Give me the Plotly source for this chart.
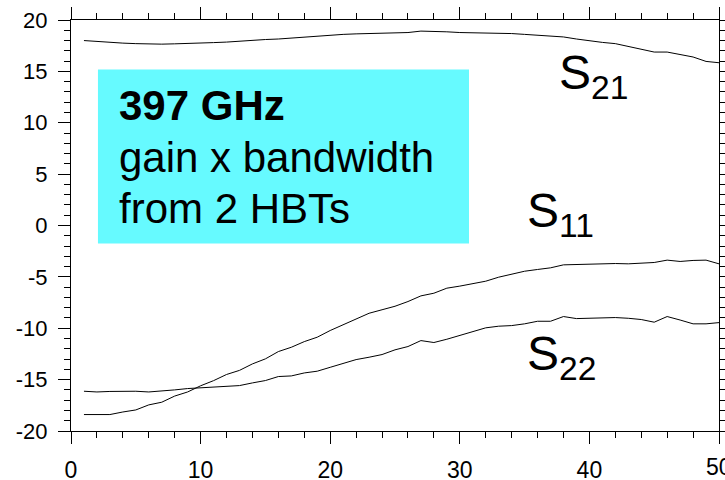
import plotly.graph_objects as go

freq = list(range(1, 51))
s21 = [18.0, 17.9, 17.8, 17.75, 17.7, 17.65, 17.65, 17.68, 17.7, 17.75,
       17.8, 17.85, 17.95, 18.05, 18.1, 18.15, 18.25, 18.35, 18.45, 18.5,
       18.6, 18.65, 18.7, 18.72, 18.75, 18.78, 18.92, 18.9, 18.85, 18.78,
       18.77, 18.76, 18.75, 18.68, 18.6, 18.5, 18.38, 18.35, 18.15, 17.95,
       17.82, 17.7, 17.45, 17.2, 16.88, 16.88, 16.65, 16.4, 15.97, 15.84]
s11 = [-18.4, -18.38, -18.4, -18.15, -17.95, -17.46, -17.2, -16.6, -16.2, -15.6,
       -15.1, -14.5, -14.1, -13.47, -12.98, -12.27, -11.85, -11.3, -10.87, -10.22,
       -9.64, -9.05, -8.54, -8.2, -7.86, -7.4, -6.85, -6.59, -6.1, -5.9,
       -5.68, -5.42, -5.03, -4.77, -4.45, -4.28, -4.12, -3.83, -3.8, -3.73,
       -3.73, -3.7, -3.73, -3.64, -3.6, -3.37, -3.5, -3.4, -3.37, -3.73]
s22 = [-16.13, -16.2, -16.15, -16.13, -16.13, -16.2, -16.13, -16.0, -15.87, -15.8,
       -15.78, -15.68, -15.58, -15.32, -15.09, -14.7, -14.64, -14.35, -14.18, -13.8,
       -13.41, -13.05, -12.82, -12.56, -12.1, -11.78, -11.2, -11.39, -11.07, -10.71,
       -10.32, -9.96, -9.8, -9.74, -9.57, -9.32, -9.32, -8.86, -9.06, -9.03,
       -9.06, -8.96, -9.03, -9.15, -9.41, -8.86, -9.2, -9.57, -9.57, -9.45]

x_ticks = [0, 10, 20, 30, 40]
edge_tick = 50
y_ticks = [-20, -15, -10, -5, 0, 5, 10, 15, 20]

box_lines = ["<b>397 GHz</b>", "gain x bandwidth", "from 2 HBTs"]
box_line_y = [11.68, 6.65, 1.68]
labels = ["S<sub>21</sub>", "S<sub>11</sub>", "S<sub>22</sub>"]
label_x = [37.5, 35.05, 35.05]
label_y = [17.68, 4.22, -9.69]

FONT = "Liberation Sans, Arial, sans-serif"

fig = go.Figure()
for ys in (s21, s11, s22):
    fig.add_trace(go.Scatter(x=freq, y=ys, mode="lines",
                             line=dict(color="black", width=1), showlegend=False))

fig.add_shape(type="rect", xref="x", yref="y", x0=2.08, x1=30.71, y0=-1.75, y1=15.18,
              fillcolor="#66FAFF", line=dict(width=0), layer="below")

for t, yv in zip(box_lines, box_line_y):
    fig.add_annotation(x=3.55, y=yv, xref="x", yref="y", text=t, showarrow=False,
                       xanchor="left", yanchor="middle",
                       font=dict(family=FONT, size=42, color="black"))

for t, xv, yv in zip(labels, label_x, label_y):
    fig.add_annotation(x=xv, y=yv, xref="x", yref="y", text=t, showarrow=False,
                       xanchor="left", yanchor="top",
                       font=dict(family=FONT, size=48, color="black"))

# last x tick label sits on the right edge of the window (partly cut off)
fig.add_annotation(x=edge_tick, y=0, xref="x", yref="paper", text=str(edge_tick),
                   showarrow=False, xanchor="center", yanchor="top", yshift=-21,
                   font=dict(family=FONT, size=23, color="black"))

fig.update_xaxes(range=[0, 50], tickvals=x_ticks + [edge_tick],
                 ticktext=[str(v) for v in x_ticks] + [""],
                 showgrid=False, zeroline=False, showline=True, linecolor="black",
                 linewidth=1, mirror="ticks", ticks="outside", ticklen=12,
                 tickcolor="black", tickwidth=1, automargin=False,
                 ticklabelstandoff=6,
                 minor=dict(dtick=2, ticks="outside", ticklen=6, tickcolor="black",
                            tickwidth=1, showgrid=False),
                 tickfont=dict(family=FONT, size=23, color="black"))
fig.update_yaxes(range=[-20, 20], tickvals=y_ticks, ticktext=[str(v) for v in y_ticks],
                 showgrid=False, zeroline=False, showline=True, linecolor="black",
                 linewidth=1, mirror="ticks", ticks="outside", ticklen=12,
                 tickcolor="black", tickwidth=1, automargin=False,
                 ticklabelstandoff=6,
                 minor=dict(dtick=1, ticks="outside", ticklen=6, tickcolor="black",
                            tickwidth=1, showgrid=False),
                 tickfont=dict(family=FONT, size=22, color="black"))

fig.update_layout(width=725, height=480, margin=dict(l=71, r=6, t=20, b=49),
                  plot_bgcolor="white", paper_bgcolor="white")

fig.write_html("out.html", config={"displayModeBar": False},
               post_script="document.body.style.margin='0px';document.body.style.overflow='hidden';")
